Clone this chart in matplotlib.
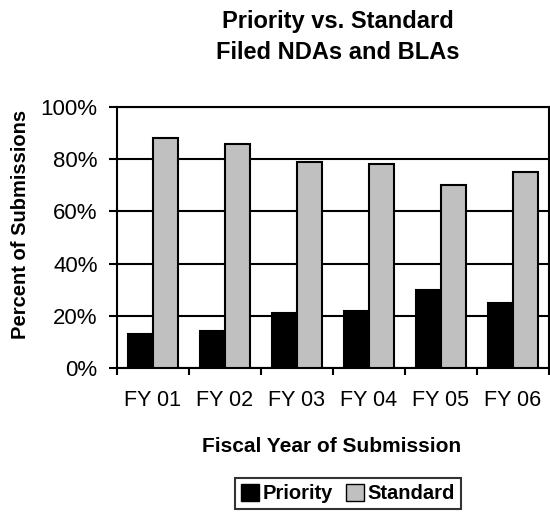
import matplotlib
matplotlib.use("Agg")
import matplotlib.pyplot as plt
import numpy as np
from matplotlib.ticker import PercentFormatter
from matplotlib.patches import Patch

plt.rcParams['font.family'] = ['Liberation Sans', 'DejaVu Sans']

years = ["FY 01", "FY 02", "FY 03", "FY 04", "FY 05", "FY 06"]
priority = [13, 14, 21, 22, 30, 25]
standard = [88, 86, 79, 78, 70, 75]

W, H = 550, 512
fig = plt.figure(figsize=(W / 100, H / 100), dpi=100)
ax = fig.add_axes([117 / W, 1 - 368 / H, 432 / W, 261 / H])

x = np.arange(len(years))
w = 0.35
ax.bar(x - w / 2, priority, width=w, color="black", edgecolor="black", linewidth=1.5, zorder=3)
ax.bar(x + w / 2, standard, width=w, color="#c0c0c0", edgecolor="black", linewidth=1.5, zorder=3)

ax.set_xlim(-0.5, len(years) - 0.5)
ax.set_ylim(0, 100)
ax.set_yticks(np.arange(0, 101, 20))
ax.yaxis.set_major_formatter(PercentFormatter(decimals=0))
ax.yaxis.grid(True, color="black", linewidth=1.5, zorder=0)
ax.set_axisbelow(True)

ax.set_xticks(np.arange(-0.5, len(years), 1))
ax.set_xticklabels([])
ax.set_xticks(x, minor=True)
ax.set_xticklabels(years, minor=True, fontsize=15.5)
ax.tick_params(axis="x", which="minor", length=0, pad=16)
ax.tick_params(axis="x", which="major", direction="out", length=5, width=1.5)
ax.tick_params(axis="y", direction="out", length=6, width=1.5, labelsize=16, pad=8)

for s in ax.spines.values():
    s.set_linewidth(1.5)
    s.set_color("black")

fig.text(21 / W, 1 - 224 / H, "Percent of Submissions", rotation=90, ha="center", va="center",
         fontsize=14.5, fontweight="bold")
fig.text(332 / W, 1 - 447 / H, "Fiscal Year of Submission", ha="center", va="center",
         fontsize=15, fontweight="bold")

fig.text(338 / W, 1 - 37 / H, "Priority vs. Standard\nFiled NDAs and BLAs", ha="center", va="center",
         fontsize=17, fontweight="bold", linespacing=1.4)

handles = [Patch(facecolor="black", edgecolor="black", label="Priority"),
           Patch(facecolor="#c0c0c0", edgecolor="black", label="Standard")]
leg = fig.legend(handles=handles, loc="center", bbox_to_anchor=(348 / W, 1 - 493.5 / H), ncol=2,
                 frameon=True, fancybox=False, edgecolor="black", handlelength=0.9,
                 handleheight=0.9, handletextpad=0.2, columnspacing=0.6,
                 borderpad=0.3, prop={"weight": "bold", "size": 14.5})
leg.get_frame().set_linewidth(1.5)

fig.savefig("out.png", dpi=100)
